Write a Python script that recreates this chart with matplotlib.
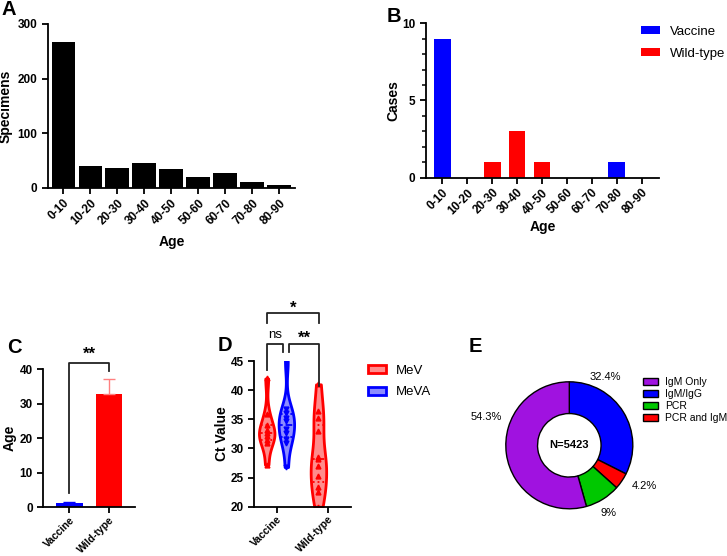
import matplotlib.pyplot as plt
import numpy as np
from matplotlib.patches import Patch
from matplotlib.ticker import MultipleLocator

plt.rcParams['font.family'] = ['Liberation Sans', 'DejaVu Sans']
plt.rcParams['font.weight'] = 'bold'
plt.rcParams['axes.labelweight'] = 'bold'
plt.rcParams['axes.linewidth'] = 1.3
plt.rcParams['xtick.major.width'] = 1.3
plt.rcParams['ytick.major.width'] = 1.3
plt.rcParams['ytick.minor.width'] = 1.1
plt.rcParams['xtick.major.size'] = 4
plt.rcParams['ytick.major.size'] = 4
plt.rcParams['ytick.minor.size'] = 3
plt.rcParams['xtick.major.pad'] = 2.5

# data
age_groups = ["0-10", "10-20", "20-30", "30-40", "40-50", "50-60", "60-70", "70-80", "80-90"]
specimens = [267, 40, 37, 46, 35, 21, 28, 11, 6]
vaccine_cases = [9, 0, 0, 0, 0, 0, 0, 1, 0]
wildtype_cases = [0, 0, 1, 3, 1, 0, 0, 0, 0]

genotypes = ["Vaccine", "Wild-type"]
mean_age = [1.2, 32.7]
age_sem = [0.45, 4.3]

ct_mev_vaccine = [27.2, 30.9, 31.5, 32.2, 32.6, 33.1, 34.0, 35.9, 42.0]
ct_meva_vaccine = [26.8, 31.0, 31.6, 32.7, 33.4, 34.7, 35.3, 36.0, 36.7, 45.0]
ct_mev_wildtype = [20.0, 22.5, 23.3, 25.2, 27.0, 28.2, 28.6, 33.0, 35.2, 36.5, 41.0]

methods = ["IgM Only", "IgM/IgG", "PCR", "PCR and IgM"]
method_pct = [54.3, 32.4, 9, 4.2]
method_colors = ["#A012E0", "#0000FF", "#00C800", "#FF0000"]
n_total = 5423

W, H = 727, 556
fig = plt.figure(figsize=(W / 100, H / 100), dpi=100)


def px(l, t, r, b):
    return [l / W, 1 - b / H, (r - l) / W, (b - t) / H]


def style(ax, ylab_x):
    ax.spines['top'].set_visible(False)
    ax.spines['right'].set_visible(False)
    ax.tick_params(labelsize=8.5)
    ax.yaxis.set_label_coords(ylab_x, 0.5)


# A
axA = fig.add_axes(px(48, 24, 295, 188))
x = np.arange(len(age_groups))
axA.bar(x, specimens, width=0.88, color='black')
axA.set_xlim(-0.57, 8.58)
axA.set_ylim(0, 300)
axA.set_yticks([0, 100, 200, 300])
axA.set_xticks(x)
axA.set_xticklabels(age_groups, rotation=45, ha='right', rotation_mode='anchor')
axA.set_ylabel("Specimens", fontsize=10)
axA.set_xlabel("Age", fontsize=10)
style(axA, -0.142)
axA.xaxis.set_label_coords(0.5, -0.284)

# B
axB = fig.add_axes(px(425.7, 23.3, 659, 177.7))
axB.bar(x, vaccine_cases, width=0.67, color='#0000FF', label="Vaccine")
axB.bar(x, wildtype_cases, width=0.67, color='#FF0000', label="Wild-type")
axB.set_xlim(-0.67, 8.7)
axB.set_ylim(0, 10)
axB.set_yticks([0, 5, 10])
axB.yaxis.set_minor_locator(MultipleLocator(1))
axB.set_xticks(x)
axB.set_xticklabels(age_groups, rotation=45, ha='right', rotation_mode='anchor')
axB.set_ylabel("Cases", fontsize=10)
axB.set_xlabel("Age", fontsize=10)
style(axB, -0.11)
axB.xaxis.set_label_coords(0.5, -0.271)
axB.legend(loc='upper left', bbox_to_anchor=(641 / W, 1 - 26 / H), bbox_transform=fig.transFigure,
           frameon=False, prop={'weight': 'normal', 'size': 9.5}, handlelength=1.45,
           handleheight=0.55, handletextpad=0.75, labelspacing=0.75, borderpad=0, borderaxespad=0)

# C
axC = fig.add_axes(px(43.3, 369, 135, 507.3))
xc = np.arange(len(genotypes))
bar_cols = ['#0000FF', '#FF0000']
err_cols = ['#0000FF', '#FF8080']
axC.bar(xc, mean_age, width=0.67, color=bar_cols)
for i in range(len(genotypes)):
    axC.errorbar(xc[i], mean_age[i], yerr=[[0], [age_sem[i]]], color=err_cols[i], capsize=4.6,
                 elinewidth=1, capthick=1)
axC.set_xlim(-0.65, 1.65)
axC.set_ylim(0, 40)
axC.set_yticks([0, 10, 20, 30, 40])
axC.set_xticks(xc)
axC.set_xticklabels(genotypes, rotation=45, ha='right', rotation_mode='anchor')
axC.set_ylabel("Age", fontsize=10)
style(axC, -0.287)
axC.tick_params(axis='x', labelsize=7.5, pad=1.5)
axC.plot([0, 0, 1, 1], [4.2, 41.8, 41.8, 39.5], color='#222222', lw=1.3, clip_on=False)
axC.text(0.5, 42.0, "**", ha='center', va='bottom', fontsize=12)

# D
axD = fig.add_axes(px(254.3, 361, 351, 506.7))
groups = [(ct_mev_vaccine, -0.19, '#FF0000', '^'),
          (ct_meva_vaccine, 0.19, '#0000FF', 'v'),
          (ct_mev_wildtype, 0.81, '#FF0000', '^')]
for data, pos, col, mk in groups:
    vp = axD.violinplot([data], positions=[pos], widths=0.3, showextrema=False, bw_method=0.45)
    body = vp['bodies'][0]
    body.set_alpha(None)
    rgb = plt.matplotlib.colors.to_rgb(col)
    body.set_facecolor((*rgb, 0.45))
    body.set_edgecolor(col)
    body.set_linewidth(2)
    q1, med, q3 = np.percentile(data, [25, 50, 75])
    path = body.get_paths()[0]
    for yv, ls in [(q1, ':'), (med, '--'), (q3, ':')]:
        ln, = axD.plot([pos - 0.2, pos + 0.2], [yv, yv], color=col, lw=1.3, ls=ls)
        ln.set_clip_path(path, axD.transData)
    axD.plot([pos] * len(data), data, ls='none', marker=mk, color=col, ms=3.5)
axD.set_xlim(-0.43, 1.44)
axD.set_ylim(20, 45)
axD.set_yticks([20, 25, 30, 35, 40, 45])
axD.set_xticks([0, 1])
axD.set_xticklabels(genotypes, rotation=45, ha='right', rotation_mode='anchor')
axD.set_ylabel("Ct Value", fontsize=10)
style(axD, -0.262)
axD.tick_params(axis='x', labelsize=7.5, pad=1.5)
br = dict(color='#222222', lw=1.3, clip_on=False)
axD.plot([-0.18, -0.18, 0.13, 0.13], [43.5, 48.0, 48.0, 46.5], **br)
axD.plot([0.24, 0.24, 0.82, 0.82], [46.5, 48.0, 48.0, 40.7], **br)
axD.plot([-0.18, -0.18, 0.82, 0.82], [51.6, 53.2, 53.2, 51.6], **br)
axD.text(-0.025, 48.4, "ns", ha='center', va='bottom', fontsize=9.5, fontweight='normal')
axD.text(0.53, 47.6, "**", ha='center', va='bottom', fontsize=12)
axD.text(0.32, 52.8, "*", ha='center', va='bottom', fontsize=12)
handles = [Patch(facecolor=(1, 0, 0, 0.45), edgecolor='#FF0000', lw=2),
           Patch(facecolor=(0, 0, 1, 0.45), edgecolor='#0000FF', lw=2)]
axD.legend(handles, ["MeV", "MeVA"], loc='upper left', bbox_to_anchor=(368 / W, 1 - 365 / H),
           bbox_transform=fig.transFigure, frameon=False, prop={'weight': 'normal', 'size': 9.5},
           handlelength=1.35, handleheight=0.55, handletextpad=0.8, labelspacing=0.7,
           borderpad=0, borderaxespad=0)

# E
axE = fig.add_axes(px(489.3, 365.3, 649.3, 525.3))
order = [1, 3, 2, 0]
wedges, _ = axE.pie([method_pct[i] for i in order], colors=[method_colors[i] for i in order],
                    startangle=90, counterclock=False, radius=1,
                    wedgeprops=dict(width=0.5, edgecolor='black', linewidth=1))
axE.set_xlim(-1.26, 1.26)
axE.set_ylim(-1.26, 1.26)
axE.set_aspect('equal')
label_xy = [(-1.30, 0.45), (0.56, 1.08), (0.61, -1.06), (1.18, -0.64)]
for i in range(len(methods)):
    axE.text(*label_xy[i], f"{method_pct[i]:g}%", ha='center', va='center', fontsize=8,
             fontweight='normal', clip_on=False)
axE.text(0, 0, f"N={n_total}", ha='center', va='center', fontsize=8)
leg_handles = [wedges[order.index(i)] for i in range(len(methods))]
axE.legend(leg_handles, methods, loc='upper left', bbox_to_anchor=(642.7 / W, 1 - 377 / H),
           bbox_transform=fig.transFigure, frameon=False, prop={'weight': 'normal', 'size': 7.5},
           handlelength=1.45, handleheight=0.6, handletextpad=0.7, labelspacing=0.2,
           borderpad=0, borderaxespad=0)

# panel letters
for letter, lx, ly in [("A", 1, 15), ("B", 387, 22), ("C", 7, 353), ("D", 218, 351), ("E", 469, 352)]:
    fig.text(lx / W, 1 - ly / H, letter, fontsize=14.5, fontweight='bold', va='baseline', ha='left')

fig.savefig("out.png", dpi=100)
